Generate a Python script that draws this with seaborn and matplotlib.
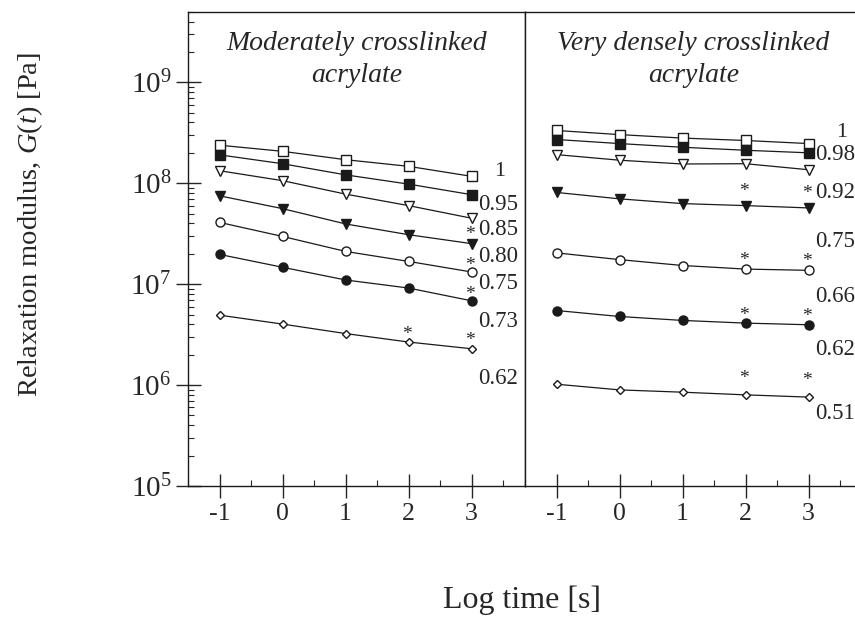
import matplotlib
matplotlib.use("Agg")
import matplotlib.pyplot as plt
import seaborn as sns
import numpy as np
from matplotlib.ticker import LogLocator, MultipleLocator, NullFormatter

# Data
log_time = [-1, 0, 1, 2, 3]

mod_labels = ["1", "0.95", "0.85", "0.80", "0.75", "0.73", "0.62"]
mod_values = [
    [2.38e8, 2.07e8, 1.71e8, 1.47e8, 1.17e8],
    [1.91e8, 1.56e8, 1.21e8, 9.8e7, 7.7e7],
    [1.33e8, 1.06e8, 7.8e7, 6.0e7, 4.5e7],
    [7.5e7, 5.6e7, 3.95e7, 3.09e7, 2.52e7],
    [4.09e7, 2.97e7, 2.11e7, 1.68e7, 1.32e7],
    [1.97e7, 1.47e7, 1.10e7, 9.15e6, 6.84e6],
    [4.93e6, 4.02e6, 3.24e6, 2.67e6, 2.29e6],
]
# log times that carry an asterisk, per series
mod_stars = [[], [], [], [3], [3], [3], [2, 3]]

dense_labels = ["1", "0.98", "0.92", "0.75", "0.66", "0.62", "0.51"]
dense_values = [
    [3.33e8, 3.03e8, 2.80e8, 2.65e8, 2.47e8],
    [2.71e8, 2.47e8, 2.27e8, 2.12e8, 2.00e8],
    [1.92e8, 1.69e8, 1.55e8, 1.56e8, 1.36e8],
    [8.1e7, 7.0e7, 6.28e7, 6.0e7, 5.69e7],
    [2.04e7, 1.75e7, 1.53e7, 1.41e7, 1.37e7],
    [5.48e6, 4.78e6, 4.37e6, 4.11e6, 3.96e6],
    [1.02e6, 8.96e5, 8.5e5, 8.0e5, 7.6e5],
]
dense_stars = [[], [], [], [2, 3], [2, 3], [2, 3], [2, 3]]

# where the series labels sit (log10 of modulus)
mod_label_y = [8.118, 7.788, 7.540, 7.275, 7.011, 6.630, 6.068]
dense_label_y = [8.50, 8.28, 7.910, 7.424, 6.878, 6.349, 5.721]

# asterisk lift above the marker (points)
mod_star_off = [0, 0, 0, 6.5, 5.0, 4.3, 5.7]
dense_star_off = [0, 0, 0, 10.5, 6.5, 5.7, 12.0]

# marker, filled, size
styles = [("s", False, 7), ("s", True, 6.5), ("v", False, 7), ("v", True, 7),
          ("o", False, 6.5), ("o", True, 6.5), ("D", False, 4.5)]

sns.set_theme(style="ticks")
plt.rcParams["font.family"] = ["Liberation Serif", "DejaVu Serif"]
plt.rcParams["mathtext.fontset"] = "custom"
plt.rcParams["mathtext.rm"] = "Liberation Serif"
plt.rcParams["mathtext.it"] = "Liberation Serif:italic"
plt.rcParams["axes.linewidth"] = 1.0

fig = plt.figure(figsize=(8.55, 6.17), dpi=100)
ax1 = fig.add_axes([0.2199, 0.2123, 0.3942, 0.7687])
ax2 = fig.add_axes([0.6141, 0.2123, 0.3942, 0.7687], sharey=ax1)


def draw_panel(ax, values, labels, label_y, stars, star_off, title, label_x, one_x):
    for i, vals in enumerate(values):
        m, filled, ms = styles[i]
        sns.lineplot(x=log_time, y=vals, ax=ax, color="k", linewidth=0.9,
                     marker=m, markersize=ms,
                     markerfacecolor="k" if filled else "white",
                     markeredgecolor="k", markeredgewidth=1.0)
        for t in stars[i]:
            j = log_time.index(t)
            ax.annotate("*", (t, vals[j]), xytext=(-1, star_off[i]),
                        textcoords="offset points", ha="center", va="center",
                        fontsize=14)
    for lab, ly in zip(labels, label_y):
        if lab == "1":
            ax.text(one_x, 10 ** ly, lab, ha="center", va="center", fontsize=16)
        else:
            ax.text(label_x, 10 ** ly, lab, ha="left", va="center", fontsize=16.5)
    t1, t2 = title
    ax.text(0.5, 0.932, t1, transform=ax.transAxes, ha="center", va="center",
            fontsize=20, style="italic")
    ax.text(0.5, 0.866, t2, transform=ax.transAxes, ha="center", va="center",
            fontsize=20, style="italic")

    ax.set_yscale("log")
    ax.set_ylim(1e5, 5e9)
    ax.set_xlim(-1.5, 3.85)
    ax.xaxis.set_major_locator(MultipleLocator(1))
    ax.xaxis.set_minor_locator(MultipleLocator(0.5))
    ax.set_xticks(log_time)
    ax.set_xticklabels([str(v) for v in log_time])
    ax.tick_params(axis="x", which="major", direction="inout", length=17,
                   width=1.0, labelsize=18.5, pad=4, top=False)
    ax.tick_params(axis="x", which="minor", direction="in", length=4, width=0.8)
    ax.set_xlabel("")
    ax.set_ylabel("")
    for s in ax.spines.values():
        s.set_color("k")


draw_panel(ax1, mod_values, mod_labels, mod_label_y, mod_stars, mod_star_off,
           ("Moderately crosslinked", "acrylate"), 3.1, 3.45)
draw_panel(ax2, dense_values, dense_labels, dense_label_y, dense_stars, dense_star_off,
           ("Very densely crosslinked", "acrylate"), 3.1, 3.52)

ax1.yaxis.set_major_locator(LogLocator(base=10, numticks=10))
ax1.yaxis.set_minor_locator(LogLocator(base=10, subs=np.arange(2, 10), numticks=20))
ax1.yaxis.set_minor_formatter(NullFormatter())
ax1.tick_params(axis="y", which="major", direction="inout", length=18, width=1.0,
                labelsize=21, pad=3)
ax1.tick_params(axis="y", which="minor", direction="in", length=4, width=0.8)

ax2.tick_params(axis="y", which="both", left=False, labelleft=False)
ax2.spines["right"].set_visible(False)

fig.text(30 / 855, 1 - 225 / 617, r"Relaxation modulus, $G(t)$ [Pa]",
         rotation=90, ha="center", va="center", fontsize=20.5)
fig.text(522 / 855, 1 - 600 / 617, "Log time [s]", ha="center", va="center",
         fontsize=23)

fig.savefig("out.png", dpi=100)
